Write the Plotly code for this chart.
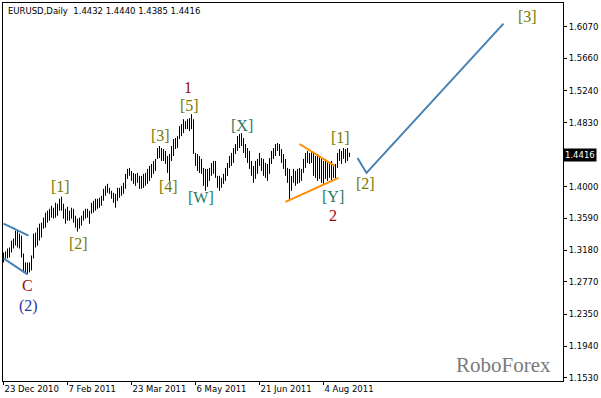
import plotly.graph_objects as go

# ---------------- data ----------------
highs = [
    1.3151, 1.3164, 1.3202, 1.3215, 1.3305, 1.3331, 1.3433, 1.3433, 1.3395, 1.3369,
    1.3138, 1.3022, 1.3022, 1.3022, 1.3112, 1.3395, 1.3408, 1.3472, 1.3523, 1.3536,
    1.3601, 1.3665, 1.3691, 1.3716, 1.3755, 1.3729, 1.3793, 1.3781, 1.3845, 1.3871,
    1.3781, 1.3716, 1.3742, 1.3691, 1.3729, 1.3716, 1.3626, 1.3588, 1.3601, 1.3626,
    1.3691, 1.3716, 1.3716, 1.3691, 1.3793, 1.3819, 1.3845, 1.3845, 1.3858, 1.3883,
    1.3974, 1.4012, 1.4038, 1.3986, 1.3948, 1.3922, 1.3909, 1.3986, 1.3986, 1.4012,
    1.4051, 1.4167, 1.4231, 1.4244, 1.4205, 1.4179, 1.4167, 1.4179, 1.4141, 1.4141,
    1.4167, 1.4179, 1.4231, 1.4269, 1.4295, 1.4334, 1.4360, 1.4501, 1.4527, 1.4501,
    1.4488, 1.4463, 1.4398, 1.4424, 1.4527, 1.4617, 1.4630, 1.4655, 1.4784, 1.4810,
    1.4874, 1.4849, 1.4874, 1.4887, 1.4939, 1.4874, 1.4437, 1.4424, 1.4398, 1.4360,
    1.4244, 1.4231, 1.4231, 1.4244, 1.4308, 1.4334, 1.4334, 1.4141, 1.4141, 1.4115,
    1.4167, 1.4244, 1.4308, 1.4398, 1.4437, 1.4501, 1.4553, 1.4655, 1.4681, 1.4694,
    1.4630, 1.4553, 1.4501, 1.4463, 1.4334, 1.4269, 1.4334, 1.4360, 1.4437, 1.4372,
    1.4360, 1.4308, 1.4295, 1.4372, 1.4463, 1.4501, 1.4553, 1.4565, 1.4553, 1.4488,
    1.4424, 1.4360, 1.4244, 1.4231, 1.4141, 1.4231, 1.4205, 1.4231, 1.4244, 1.4231,
    1.4360, 1.4437, 1.4463, 1.4437, 1.4463, 1.4437, 1.4398, 1.4424, 1.4398, 1.4360,
    1.4334, 1.4360, 1.4334, 1.4308, 1.4334, 1.4295, 1.4295, 1.4437, 1.4488, 1.4463,
    1.4501, 1.4488, 1.4501, 1.4440,
]
lows = [
    1.3022, 1.3074, 1.3074, 1.3086, 1.3151, 1.3202, 1.3241, 1.3215, 1.3202, 1.3086,
    1.2894, 1.2881, 1.2868, 1.2894, 1.2919, 1.3074, 1.3215, 1.3241, 1.3305, 1.3344,
    1.3459, 1.3472, 1.3536, 1.3562, 1.3601, 1.3588, 1.3601, 1.3626, 1.3691, 1.3691,
    1.3588, 1.3523, 1.3562, 1.3562, 1.3588, 1.3536, 1.3472, 1.3421, 1.3459, 1.3498,
    1.3562, 1.3588, 1.3601, 1.3523, 1.3652, 1.3665, 1.3691, 1.3716, 1.3729, 1.3755,
    1.3819, 1.3883, 1.3922, 1.3909, 1.3845, 1.3793, 1.3729, 1.3819, 1.3858, 1.3883,
    1.3909, 1.3974, 1.4102, 1.4141, 1.4076, 1.4038, 1.4012, 1.4051, 1.3974, 1.3974,
    1.3986, 1.4012, 1.4038, 1.4076, 1.4115, 1.4167, 1.4205, 1.4360, 1.4372, 1.4334,
    1.4334, 1.4295, 1.4179, 1.4076, 1.4334, 1.4398, 1.4488, 1.4501, 1.4617, 1.4655,
    1.4694, 1.4745, 1.4745, 1.4720, 1.4745, 1.4424, 1.4269, 1.4205, 1.4179, 1.4167,
    1.4012, 1.3948, 1.3999, 1.4076, 1.4141, 1.4167, 1.4115, 1.3986, 1.3948, 1.3986,
    1.4038, 1.4076, 1.4141, 1.4244, 1.4269, 1.4308, 1.4424, 1.4463, 1.4501, 1.4527,
    1.4437, 1.4372, 1.4308, 1.4231, 1.4141, 1.4051, 1.4102, 1.4167, 1.4269, 1.4205,
    1.4141, 1.4115, 1.4076, 1.4167, 1.4295, 1.4360, 1.4398, 1.4463, 1.4398, 1.4308,
    1.4231, 1.4141, 1.4051, 1.3819, 1.3948, 1.4051, 1.4012, 1.4038, 1.4051, 1.4076,
    1.4179, 1.4244, 1.4308, 1.4295, 1.4308, 1.4141, 1.4115, 1.4076, 1.4102, 1.4051,
    1.4038, 1.4102, 1.4076, 1.4115, 1.4076, 1.4115, 1.4102, 1.4244, 1.4334, 1.4295,
    1.4360, 1.4308, 1.4334, 1.4385,
]

date_tick_pos = [0, 32, 64, 96, 128, 160]
date_tick_labels = ["23 Dec 2010", "7 Feb 2011", "23 Mar 2011", "6 May 2011", "21 Jun 2011", "4 Aug 2011"]
price_ticks = [1.6070, 1.5660, 1.5240, 1.4830, 1.4000, 1.3590, 1.3180, 1.2770, 1.2350, 1.1940, 1.1530]
last_price = 1.4416
title_text = "EURUSD,Daily  1.4432 1.4440 1.4385 1.4416"

# analyst lines (bar index, price)
wedge_upper_x, wedge_upper_y = [0, 12.5], [1.3523, 1.3369]
wedge_lower_x, wedge_lower_y = [0, 12], [1.3074, 1.2868]
tri_upper_x, tri_upper_y = [148, 165.5], [1.4553, 1.4269]
tri_lower_x, tri_lower_y = [141, 167.5], [1.3806, 1.4115]
proj_x, proj_y = [177, 181.5, 250], [1.4372, 1.4179, 1.6109]

# wave labels
wave_text = ["1", "[5]", "[3]", "[X]", "[1]", "[1]", "[4]", "[W]", "[Y]", "2", "[2]", "[2]", "[3]", "C", "(2)"]
wave_x = [92, 93, 78.5, 119, 168.5, 28.5, 82.5, 98.5, 164.5, 164.5, 37.5, 181, 262, 12, 12.5]
wave_y = [1.5286, 1.5054, 1.4668, 1.4797, 1.4643, 1.3999, 1.3999, 1.3858, 1.3874, 1.3624,
          1.3266, 1.4038, 1.6199, 1.2726, 1.2456]
wave_kind = ["red", "num", "num", "let", "num", "num", "num", "let", "let", "red",
             "num", "num", "num", "red", "navy"]

kind_color = {"red": "#9a0a0a", "num": "#767a00", "let": "#1f7a66", "navy": "#27359a"}

# ---------------- figure ----------------
fig = go.Figure()

bx, by = [], []
for i, (h, l) in enumerate(zip(highs, lows)):
    bx += [i, i, None]
    by += [l, h, None]
fig.add_trace(go.Scatter(x=bx, y=by, mode="lines", line=dict(color="black", width=1),
                         hoverinfo="skip", showlegend=False))

steel = "#4682b4"
orange = "#ff8c00"
for lx, ly, c in [(wedge_upper_x, wedge_upper_y, steel), (wedge_lower_x, wedge_lower_y, steel),
                  (tri_upper_x, tri_upper_y, orange), (tri_lower_x, tri_lower_y, orange),
                  (proj_x, proj_y, steel)]:
    fig.add_trace(go.Scatter(x=lx, y=ly, mode="lines", line=dict(color=c, width=2),
                             hoverinfo="skip", showlegend=False))

for t, x, y, k in zip(wave_text, wave_x, wave_y, wave_kind):
    fig.add_annotation(x=x, y=y, text=t, showarrow=False, xref="x", yref="y",
                       font=dict(family="Liberation Serif", size=16, color=kind_color[k]))

fig.add_annotation(xref="paper", yref="paper", x=0, y=1, xanchor="left", yanchor="top",
                   xshift=3, yshift=-1, text=title_text, showarrow=False,
                   font=dict(family="DejaVu Sans", size=8.5, color="black"))
fig.add_annotation(xref="paper", yref="paper", x=1, y=0, xanchor="right", yanchor="bottom",
                   xshift=-10, yshift=2, text="RoboForex", showarrow=False,
                   font=dict(family="Liberation Serif", size=21, color="#7a7a7a"))
fig.add_annotation(xref="paper", yref="y", x=1, y=last_price, xanchor="left", yanchor="middle",
                   xshift=0, text=f"{last_price:.4f}", showarrow=False, bgcolor="black",
                   borderpad=1, font=dict(family="DejaVu Sans", size=8.5, color="white"))

fig.update_layout(
    width=601, height=398,
    margin=dict(l=3, r=38, t=3, b=17),
    paper_bgcolor="white", plot_bgcolor="white",
    showlegend=False,
    xaxis=dict(range=[-0.25, 279.75], tickvals=date_tick_pos, ticktext=date_tick_labels,
               ticks="outside", ticklen=3, tickcolor="black", showgrid=False, zeroline=False,
               showline=True, linecolor="black", linewidth=1, mirror=True,
               ticklabelposition="outside right",
               tickfont=dict(family="DejaVu Sans", size=8.5, color="black")),
    yaxis=dict(range=[1.1490, 1.6375], side="right", tickvals=price_ticks,
               ticktext=[f"{v:.4f}" for v in price_ticks],
               ticks="outside", ticklen=3, tickcolor="black", showgrid=False, zeroline=False,
               showline=True, linecolor="black", linewidth=1, mirror=True,
               tickfont=dict(family="DejaVu Sans", size=8.5, color="black")),
)

fig.write_html("out.html")
